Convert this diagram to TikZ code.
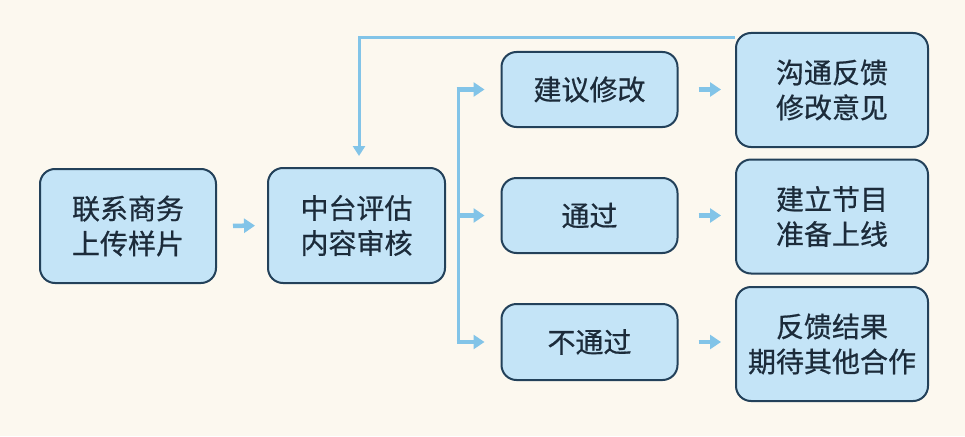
\documentclass[tikz,border=0pt]{standalone}
\usepackage{fontspec}
\setmainfont{Noto Sans CJK SC}[FakeBold=0.6]
\usetikzlibrary{arrows.meta,calc}
\definecolor{bgc}{HTML}{FCF8EF}
\definecolor{boxfill}{HTML}{C4E4F7}
\definecolor{boxdraw}{HTML}{23415A}
\definecolor{arrc}{HTML}{82C4E8}
\definecolor{txtc}{HTML}{1C2B3A}
\tikzset{
  box/.style={draw=boxdraw, line width=2pt, fill=boxfill, rounded corners=15pt,
    align=center, text=txtc, font=\fontsize{28}{35}\selectfont, inner sep=0pt},
  conn/.style={draw=arrc, line width=3pt},
  arr/.style={draw=arrc, line width=4.5pt, -{Triangle[width=14pt,length=11pt]}},
}
\begin{document}
\begin{tikzpicture}[x=1pt,y=-1pt]
\fill[bgc] (0,0) rectangle (965,436);
\useasboundingbox (0,0) rectangle (965,436);

\node[box, minimum width=176pt, minimum height=114pt] (B1) at (128,226) {联系商务\\上传样片};
\node[box, minimum width=177pt, minimum height=115pt] (B2) at (356.5,225.5) {中台评估\\内容审核};

\node[box, minimum width=176pt, minimum height=75pt] (S1) at (589.5,89.5) {建议修改};
\node[box, minimum width=176pt, minimum height=75pt] (S2) at (589.5,215.5) {通过};
\node[box, minimum width=176pt, minimum height=76pt] (S3) at (589.5,342) {不通过};

\node[box, minimum width=192pt, minimum height=114pt] (R1) at (832,90) {沟通反馈\\修改意见};
\node[box, minimum width=192pt, minimum height=114pt] (R2) at (832,216.5) {建立节目\\准备上线};
\node[box, minimum width=192pt, minimum height=114pt] (R3) at (832,344) {反馈结果\\期待其他合作};

% main arrow
\draw[arr, shorten <=16pt, shorten >=12pt] (B1.east) -- (B2.west);

% branch
\coordinate (jx) at (458,0);
\draw[conn] (S1.west -| jx) -- (S3.west -| jx);
\draw[arr, shorten >=16pt] ([xshift=-1.5pt]S1.west -| jx) -- (S1.west);
\draw[arr, shorten <=2pt, shorten >=16pt] (S2.west -| jx) -- (S2.west);
\draw[arr, shorten >=16pt] ([xshift=-1.5pt]S3.west -| jx) -- (S3.west);

% results
\draw[arr, shorten <=20pt, shorten >=14pt] (S1.east) -- (S1.east -| R1.west);
\draw[arr, shorten <=20pt, shorten >=14pt] (S2.east) -- (S2.east -| R2.west);
\draw[arr, shorten <=20pt, shorten >=14pt] (S3.east) -- (S3.east -| R3.west);

% feedback loop
\coordinate (fb) at (0,38);
\coordinate (fbx) at (359,0);
\draw[conn, -{Triangle[width=12pt,length=10pt]}, shorten >=11pt]
  (R1.west |- fb) -- (fbx |- fb) -- (fbx |- B2.north);
\end{tikzpicture}
\end{document}
